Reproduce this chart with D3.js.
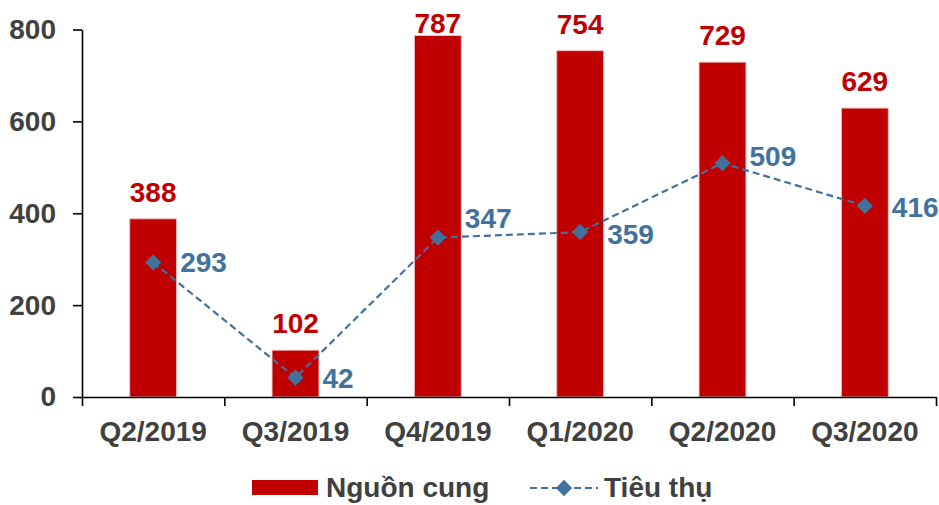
<!DOCTYPE html>
<html lang="vi">
<head>
    <meta charset="UTF-8">
    <title>Nguồn cung - Tiêu thụ</title>
    <script src="https://d3js.org/d3.v7.min.js"></script>
    <style>
        body { margin: 0; background: #fff; }
        text { font-family: 'Liberation Sans', Arial, sans-serif; font-weight: bold; }
    </style>
</head>
<body>
    <div id="chart"></div>
    <script>
        // data
        const quarters = ["Q2/2019", "Q3/2019", "Q4/2019", "Q1/2020", "Q2/2020", "Q3/2020"];
        const supply = [388, 102, 787, 754, 729, 629];      // Nguồn cung
        const consumption = [293, 42, 347, 359, 509, 416];  // Tiêu thụ
        const yTicks = [0, 200, 400, 600, 800];

        const W = 939, H = 505;
        const margin = {top: 29.5, right: 3, bottom: 108, left: 82};
        const width = W - margin.left - margin.right,
            height = H - margin.top - margin.bottom;

        const red = "#c00000", blue = "#41719c", grey = "#404040";
        const fontSize = "28px";

        const svg = d3.select("#chart")
            .append("svg")
            .attr("width", W)
            .attr("height", H)
            .append("g")
            .attr("transform", `translate(${margin.left},${margin.top})`);

        const x = d3.scaleBand()
            .domain(quarters)
            .range([0, width])
            .paddingInner(0.67)
            .paddingOuter(0.335);

        const y = d3.scaleLinear()
            .domain([0, 800])
            .range([height, 0]);

        // bars
        svg.selectAll(".bar")
            .data(quarters)
            .join("rect")
            .attr("class", "bar")
            .attr("x", d => x(d))
            .attr("y", (d, i) => y(supply[i]))
            .attr("width", x.bandwidth())
            .attr("height", (d, i) => height - y(supply[i]))
            .style("fill", red)
            .style("stroke", "#f2c4c4")
            .style("stroke-width", 1);

        // bar labels (kept inside the top of the chart, like Excel does)
        svg.selectAll(".bar-label")
            .data(quarters)
            .join("text")
            .attr("class", "bar-label")
            .attr("x", d => x(d) + x.bandwidth() / 2)
            .attr("y", (d, i) => Math.max(y(supply[i]) - 17, 3.5))
            .attr("text-anchor", "middle")
            .style("font-size", fontSize)
            .style("fill", red)
            .text((d, i) => supply[i]);

        // y axis
        const yAxis = svg.append("g")
            .call(d3.axisLeft(y).tickValues(yTicks).tickSize(9).tickSizeOuter(0).tickPadding(17));
        yAxis.selectAll("line, path").style("stroke", "#000").style("stroke-width", 1.6);
        yAxis.selectAll("text").style("font-size", fontSize).style("fill", grey)
            .attr("font-family", null);

        // x axis: tick marks on category boundaries
        const xb = d3.scaleLinear().domain([0, quarters.length]).range([0, width]);
        const xAxis = svg.append("g")
            .attr("transform", `translate(0,${height})`)
            .call(d3.axisBottom(xb).tickValues(d3.range(quarters.length + 1)).tickSize(9).tickSizeOuter(0).tickFormat(""));
        xAxis.selectAll("line, path").style("stroke", "#000").style("stroke-width", 1.6);

        const xLabels = svg.append("g")
            .attr("transform", `translate(0,${height})`)
            .call(d3.axisBottom(x).tickSize(0).tickPadding(24));
        xLabels.select(".domain").remove();
        xLabels.selectAll("text").style("font-size", fontSize).style("fill", grey)
            .attr("font-family", null);

        // consumption line
        const cx = d => x(d) + x.bandwidth() / 2;
        const line = d3.line()
            .x(d => cx(d))
            .y((d, i) => y(consumption[i]));

        svg.append("path")
            .datum(quarters)
            .attr("d", line)
            .style("fill", "none")
            .style("stroke", blue)
            .style("stroke-width", 2.2)
            .style("stroke-dasharray", "7,4");

        const diamond = d3.symbol().type(d3.symbolDiamond2).size(170);
        svg.selectAll(".marker")
            .data(quarters)
            .join("path")
            .attr("class", "marker")
            .attr("d", diamond)
            .attr("transform", (d, i) => `translate(${cx(d)},${y(consumption[i])})`)
            .style("fill", blue);

        // a few labels were moved by hand in the original, nudge them the same way
        const labelNudge = [0, 0, -20, 2, -7, 1];
        svg.selectAll(".line-label")
            .data(quarters)
            .join("text")
            .attr("class", "line-label")
            .attr("x", d => cx(d) + 27)
            .attr("y", (d, i) => y(consumption[i]) + 10 + labelNudge[i])
            .style("font-size", fontSize)
            .style("fill", blue)
            .text((d, i) => consumption[i]);

        // Handmade legend
        const legend = d3.select("svg").append("g");
        legend.append("rect").attr("x", 252).attr("y", 480).attr("width", 66).attr("height", 15).style("fill", red);
        legend.append("text").attr("x", 326).attr("y", 497).text("Nguồn cung")
            .style("font-size", fontSize).style("fill", grey);
        legend.append("line").attr("x1", 530).attr("x2", 598).attr("y1", 488).attr("y2", 488)
            .style("stroke", blue).style("stroke-width", 2.2).style("stroke-dasharray", "7,4");
        legend.append("path").attr("d", diamond).attr("transform", "translate(564,488)").style("fill", blue);
        legend.append("text").attr("x", 604).attr("y", 497).text("Tiêu thụ")
            .style("font-size", fontSize).style("fill", grey);
    </script>
</body>
</html>
